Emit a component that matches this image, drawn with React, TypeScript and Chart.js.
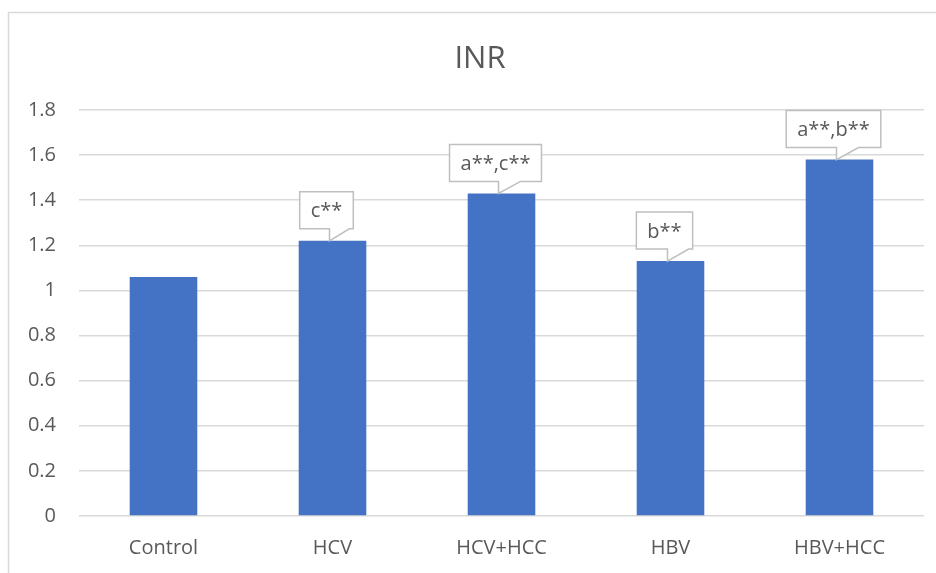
import React, { useEffect, useRef } from "react";
import { Chart, registerables } from "chart.js";

Chart.register(...registerables);

const chartTitle = "INR";
const categories = ["Control", "HCV", "HCV+HCC", "HBV", "HBV+HCC"];
const inrValues = [1.06, 1.22, 1.43, 1.13, 1.58];
const calloutLabels = ["", "c**", "a**,c**", "b**", "a**,b**"];
const yTickValues = [0, 0.2, 0.4, 0.6, 0.8, 1, 1.2, 1.4, 1.6, 1.8];
const yTickLabels = ["0", "0.2", "0.4", "0.6", "0.8", "1", "1.2", "1.4", "1.6", "1.8"];

const FONT = "'Open Sans', 'Noto Sans', sans-serif";
const TEXT = "#595959";
const GRID = "#D9D9D9";
const BAR = "#4472C4";

const framePlugin = {
  id: "frameTitle",
  beforeDraw(chart: any) {
    const ctx = chart.ctx;
    ctx.save();
    ctx.fillStyle = "#ffffff";
    ctx.fillRect(0, 0, chart.width, chart.height);
    ctx.strokeStyle = GRID;
    ctx.lineWidth = 1.5;
    ctx.strokeRect(8.5, 12.5, chart.width + 20, chart.height + 20);
    ctx.fillStyle = TEXT;
    ctx.font = `31px ${FONT}`;
    ctx.textAlign = "center";
    ctx.textBaseline = "alphabetic";
    ctx.fillText(chartTitle, 480, 68);
    ctx.restore();
  },
};

const calloutPlugin = {
  id: "callouts",
  afterDatasetsDraw(chart: any) {
    const ctx = chart.ctx;
    const meta = chart.getDatasetMeta(0);
    ctx.save();
    ctx.font = `20px ${FONT}`;
    meta.data.forEach((bar: any, i: number) => {
      const label = calloutLabels[i];
      if (!label) return;
      const tw = ctx.measureText(label).width;
      const w = tw + 22;
      const h = 37;
      const cx = bar.x - 6;
      const bottom = bar.y - 12;
      const top = bottom - h;
      const left = cx - w / 2;
      const right = cx + w / 2;
      const tipX = bar.x - 3;
      const tipY = bar.y;
      const baseL = tipX;
      const baseR = Math.min(tipX + 22, right - 4);
      ctx.beginPath();
      ctx.moveTo(left, top);
      ctx.lineTo(right, top);
      ctx.lineTo(right, bottom);
      ctx.lineTo(baseR, bottom);
      ctx.lineTo(tipX, tipY);
      ctx.lineTo(baseL, bottom);
      ctx.lineTo(left, bottom);
      ctx.closePath();
      ctx.fillStyle = "#ffffff";
      ctx.fill();
      ctx.strokeStyle = "#BFBFBF";
      ctx.lineWidth = 1.5;
      ctx.stroke();
      ctx.fillStyle = TEXT;
      ctx.textAlign = "center";
      ctx.textBaseline = "alphabetic";
      ctx.fillText(label, cx, top + h / 2 + 7);
    });
    ctx.restore();
  },
};

export default function App() {
  const ref = useRef<HTMLCanvasElement | null>(null);
  useEffect(() => {
    if (!ref.current) return;
    const chart = new Chart(ref.current, {
      type: "bar",
      data: {
        labels: categories,
        datasets: [
          {
            label: chartTitle,
            data: inrValues,
            backgroundColor: BAR,
            borderWidth: 0,
            barPercentage: 0.4,
            categoryPercentage: 1,
          },
        ],
      },
      options: {
        animation: false,
        responsive: false,
        maintainAspectRatio: false,
        devicePixelRatio: 1,
        layout: { padding: { top: 110, left: 8, right: 12, bottom: 0 } },
        plugins: {
          legend: { display: false },
          title: { display: false },
          tooltip: { enabled: false },
        },
        scales: {
          x: {
            grid: { display: false, drawTicks: false },
            border: { display: false },
            ticks: { color: TEXT, font: { family: FONT, size: 20 }, padding: 20 },
            afterFit: (s: any) => {
              s.height = 57;
            },
          },
          y: {
            min: 0,
            max: 1.8,
            afterBuildTicks: (s: any) => {
              s.ticks = yTickValues.map((v) => ({ value: v }));
            },
            grid: { color: GRID, lineWidth: 1.5, drawTicks: false },
            border: { display: false },
            ticks: {
              color: TEXT,
              font: { family: FONT, size: 20 },
              padding: 23,
              callback: (_v: any, idx: number) => yTickLabels[idx],
            },
            afterFit: (s: any) => {
              s.width = 71;
            },
          },
        },
      },
      plugins: [framePlugin, calloutPlugin],
    });
    return () => chart.destroy();
  }, []);
  return (
    <div style={{ position: "fixed", left: 0, top: 0, width: 936, height: 573, background: "#fff" }}>
      <canvas ref={ref} width={936} height={573} style={{ width: 936, height: 573, display: "block" }} />
    </div>
  );
}
